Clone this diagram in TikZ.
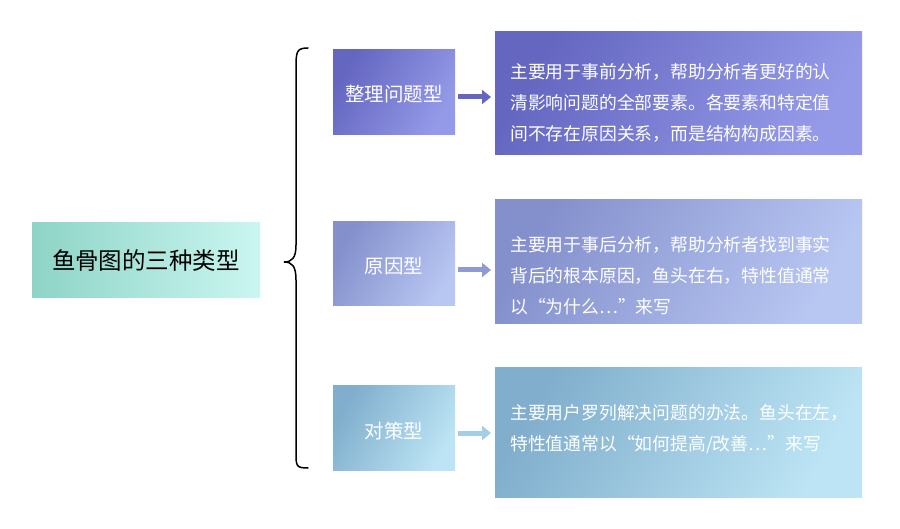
\documentclass[tikz,border=0pt]{standalone}
\usepackage{fontspec}
\newfontfamily\cjk{Noto Sans CJK SC}
\usetikzlibrary{arrows.meta}
\definecolor{aL}{HTML}{6466C0}\definecolor{aR}{HTML}{959AE8}
\definecolor{bL}{HTML}{8490CC}\definecolor{bR}{HTML}{B8C6F2}
\definecolor{cL}{HTML}{80AECC}\definecolor{cR}{HTML}{BCE4F4}
\definecolor{mL}{HTML}{8ED4C6}\definecolor{mR}{HTML}{CAF6F0}
\tikzset{
 ttl/.style={text=white, font=\cjk\fontsize{19.5}{22}\selectfont},
 desc/.style={text=white, font=\cjk\fontsize{17.8}{31}\selectfont, align=left, anchor=west, inner sep=0pt},
 arr/.style={-{Triangle[length=9pt,width=14pt]}, line width=5pt},
 gr/.style 2 args={left color=#1, right color=#2, shading angle=60},
}
\begin{document}
\begin{tikzpicture}[x=1pt,y=-1pt]
\useasboundingbox[fill=white] (0,0) rectangle (900,529);
% main
\shade[left color=mL,right color=mR] (32,223) rectangle (260,298);
\node[font=\cjk\fontsize{23.5}{26}\selectfont] (main) at (146,261) {鱼骨图的三种类型};
% brace
\draw[line width=1.5pt, line cap=round] (308,48) .. controls (296,48) and (296,52) .. (296,70) -- (296,245) .. controls (296,258) and (292,262) .. (284,262) .. controls (292,262) and (296,266) .. (296,280) -- (296,452) .. controls (296,466) and (296,468) .. (308,468);
% row boxes
\shade[gr={aL}{aR}] (333,50) rectangle (455,135);
\shade[gr={aL}{aR}] (495,32) rectangle (862,155);
\shade[gr={bL}{bR}] (333,222) rectangle (455,306);
\shade[gr={bL}{bR}] (495,200) rectangle (862,324);
\shade[gr={cL}{cR}] (333,386) rectangle (455,470);
\shade[gr={cL}{cR}] (495,368) rectangle (862,497);
\node[ttl] (t1) at (394,94) {整理问题型};
\node[ttl] (t2) at (394,266) {原因型};
\node[ttl] (t3) at (394,431) {对策型};
\node[desc] (d1) at (510,103) {主要用于事前分析，帮助分析者更好的认\\清影响问题的全部要素。各要素和特定值\\间不存在原因关系，而是结构构成因素。};
\node[desc] (d2) at (510,276) {主要用于事后分析，帮助分析者找到事实\\背后的根本原因，鱼头在右，特性值通常\\以“为什么…”来写};
\node[desc] (d3) at (510,429) {主要用户罗列解决问题的办法。鱼头在左，\\特性值通常以“如何提高/改善…”来写};
\coordinate (a1s) at (458,97);\coordinate (a1e) at (491,97);
\coordinate (a2s) at (458,270);\coordinate (a2e) at (491,270);
\coordinate (a3s) at (458,433);\coordinate (a3e) at (491,433);
\draw[arr, color=aL] (a1s) -- (a1e);
\draw[arr, color=bL!80!bR] (a2s) -- (a2e);
\draw[arr, color=cL!40!cR] (a3s) -- (a3e);
\end{tikzpicture}
\end{document}
